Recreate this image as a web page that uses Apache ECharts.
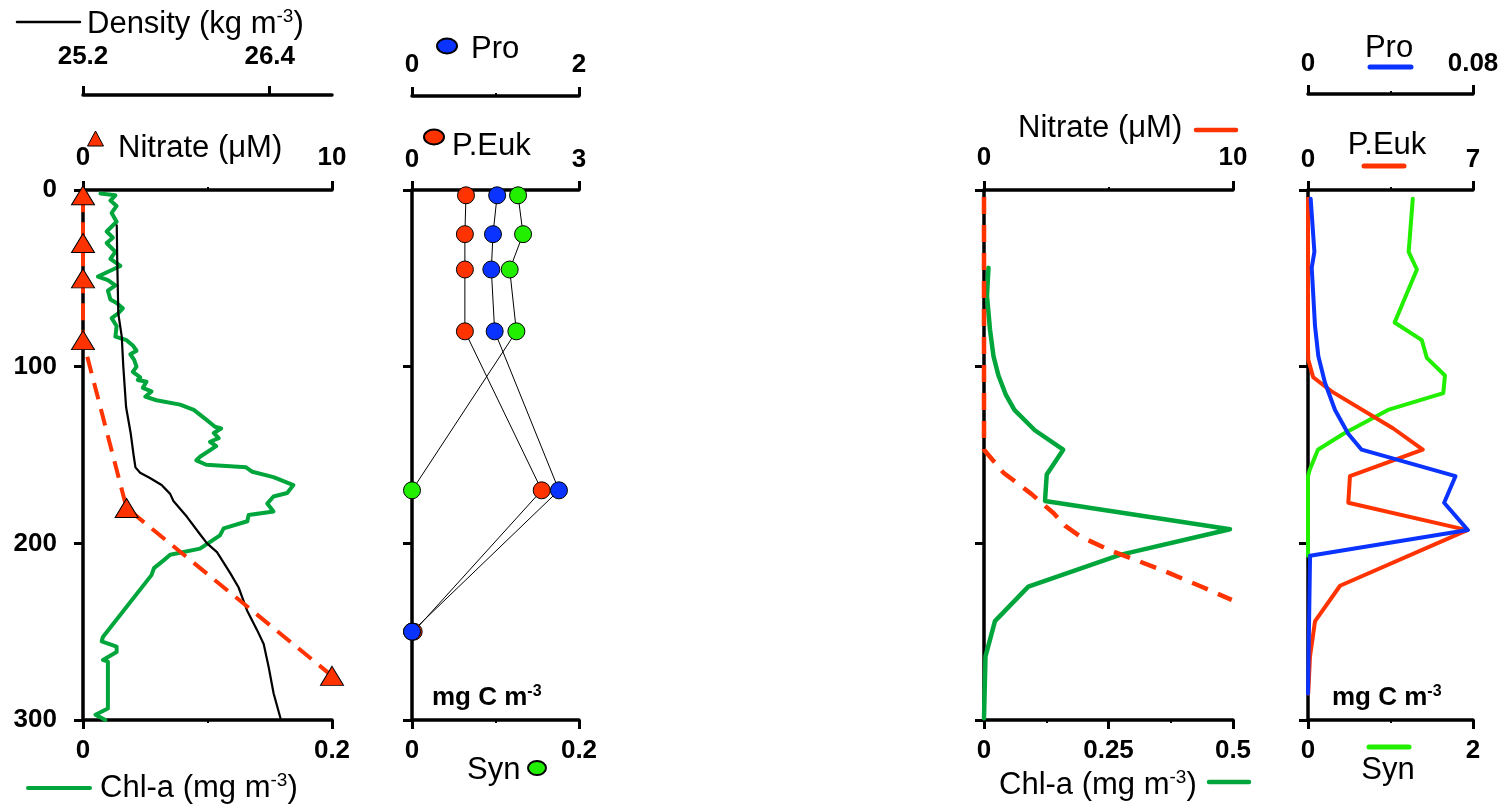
<!DOCTYPE html>
<html><head><meta charset="utf-8">
<script src="https://cdn.jsdelivr.net/npm/echarts@6/dist/echarts.min.js"></script>
<style>html,body{margin:0;padding:0;background:#fff}#c{width:1504px;height:806px}</style>
</head><body><div id="c"></div>
<script>
// ---------------- DATA ----------------
const depthTicks = [0, 100, 200, 300];

// Panel 1 (left station)
const p1NitrateDepth = [3, 30, 50, 85, 180, 275];
const p1NitrateValue = [0, 0, 0, 0, 1.75, 10];
const p1DensityDepth = [20, 40, 70, 83, 100, 123, 138, 150, 157, 160, 163, 167, 172, 176, 185, 195, 200, 205, 217, 225, 238, 249, 257, 270, 285, 299];
const p1DensityValue = [25.417, 25.42, 25.427, 25.449, 25.459, 25.477, 25.507, 25.525, 25.537, 25.567, 25.63, 25.705, 25.76, 25.781, 25.868, 25.953, 25.997, 26.061, 26.147, 26.2, 26.254, 26.318, 26.361, 26.393, 26.425, 26.469];
const p1ChlDepth = [2, 3, 6, 9, 13, 18, 23.5, 27, 30, 35, 39, 43, 45, 49, 51, 54, 57, 62, 64, 67, 70, 72.5, 77, 83, 85, 88, 91, 93, 96, 100, 103, 106, 107.5, 108.5, 112, 114, 117, 119, 121.5, 124.5, 130, 134, 135, 137.5, 140.5, 142.5, 145, 151, 153, 155.5, 157, 159.5, 162.5, 167, 171.5, 173.5, 177.5, 182, 184, 187.5, 191.5, 195.5, 203, 206.5, 209.5, 214, 218, 253, 255.5, 258.5, 261.5, 266, 267, 293.5, 297, 300];
const p1ChlValue = [0.014, 0.026, 0.022, 0.027, 0.023, 0.027, 0.019, 0.024, 0.019, 0.026, 0.022, 0.030, 0.024, 0.012, 0.020, 0.026, 0.020, 0.022, 0.027, 0.032, 0.028, 0.023, 0.027, 0.026, 0.035, 0.040, 0.043, 0.038, 0.041, 0.043, 0.040, 0.046, 0.044, 0.051, 0.048, 0.055, 0.050, 0.059, 0.078, 0.089, 0.099, 0.106, 0.111, 0.105, 0.109, 0.102, 0.107, 0.094, 0.091, 0.099, 0.131, 0.136, 0.153, 0.169, 0.164, 0.153, 0.148, 0.153, 0.133, 0.132, 0.113, 0.110, 0.094, 0.070, 0.065, 0.057, 0.055, 0.016, 0.015, 0.027, 0.027, 0.016, 0.020, 0.020, 0.010, 0.018];

// Panel 2 (left station, mg C m-3)
const p2Depth = [3, 25, 45, 80, 170, 250];
const p2Pro = [1.02, 0.97, 0.95, 0.99, 1.76, 0];
const p2PEuk = [0.97, 0.95, 0.95, 0.95, 2.33, 0.03];
const p2Syn = [0.127, 0.133, 0.117, 0.125, 0, 0];

// Panel 3 (right station)
const p3NitrateDepth = [4, 147, 160, 172, 183, 190, 196, 204, 210, 217, 225, 232];
const p3NitrateValue = [0, 0, 0.78, 1.9, 2.8, 3.25, 3.85, 5.06, 6.2, 7.47, 8.81, 9.95];
const p3ChlDepth = [44, 60, 79, 94, 105, 116, 124.5, 136, 147, 161, 176, 192, 206.5, 224.5, 244, 264, 299];
const p3ChlValue = [0.009, 0.006, 0.012, 0.019, 0.029, 0.044, 0.061, 0.102, 0.159, 0.126, 0.1225, 0.494, 0.273, 0.089, 0.022, 0.003, 0.0];

// Panel 4 (right station, mg C m-3)
const p4ProDepth = [5, 35, 44, 77, 94, 109, 124.5, 138, 147, 162, 177, 192.5, 207, 285];
const p4ProValue = [0.0013, 0.0031, 0.0018, 0.0034, 0.005, 0.0082, 0.0131, 0.0195, 0.026, 0.0715, 0.066, 0.0775, 0.001, 0];
const p4PEukDepth = [5, 89, 96, 106, 114, 135, 147, 162, 177, 192.5, 224, 244, 264, 285];
const p4PEukValue = [0, 0, 0.01, 0.22, 1.0, 3.62, 4.87, 1.78, 1.71, 6.76, 1.36, 0.3, 0.085, 0.01];
const p4SynDepth = [5, 35, 45, 75, 85, 95, 105, 115, 124.5, 138, 147, 158.5, 162, 207];
const p4SynValue = [1.27, 1.22, 1.32, 1.05, 1.38, 1.44, 1.66, 1.64, 0.97, 0.43, 0.12, 0.02, 0, 0];

// ---------------- CHART ----------------
const FONT = '"Liberation Sans", Arial, Helvetica, sans-serif';
const RED = '#ff3300', BLUE = '#0a33ff', LIME = '#22ee00', GREEN = '#00a63c';
const TICK_FS = 26, TITLE_FS = 31;
function pairs(xs, ds) { return xs.map((v, i) => [v, ds[i]]); }
function fmt(v) { return String(parseFloat(Number(v).toFixed(4))); }

function xAx(o) {
  const tick = {show: true, inside: false, length: 9, lineStyle: {color: '#000', width: 3}};
  const lab = {show: true, margin: o.margin, color: '#000', fontSize: TICK_FS, fontWeight: 'bold', fontFamily: FONT, formatter: fmt};
  if (o.values) { tick.customValues = o.values; lab.customValues = o.values; }
  return {
    type: 'value', gridIndex: o.grid, position: o.pos, offset: o.offset || 0,
    min: o.min, max: o.max, interval: o.interval,
    axisLine: {show: true, onZero: false, lineStyle: {color: '#000', width: 3.5}},
    axisTick: tick,
    minorTick: {show: !o.values, splitNumber: 2, length: 3, lineStyle: {color: '#000', width: 2}},
    axisLabel: lab,
    splitLine: {show: false}, minorSplitLine: {show: false}
  };
}
function yAx(grid, showLabel) {
  return {
    type: 'value', gridIndex: grid, inverse: true, min: 0, max: 300, interval: 100,
    axisLine: {show: true, onZero: false, lineStyle: {color: '#000', width: 3.5}},
    axisTick: {show: true, inside: false, length: 9, lineStyle: {color: '#000', width: 3}},
    axisLabel: {show: showLabel, margin: 26, color: '#000', fontSize: TICK_FS, fontWeight: 'bold', fontFamily: FONT},
    splitLine: {show: false}
  };
}

const grids = [
  {left: 83, top: 190, width: 249, height: 530},
  {left: 412, top: 190, width: 167, height: 530},
  {left: 984, top: 190, width: 249, height: 530},
  {left: 1308, top: 190, width: 165, height: 530}
].map(g => Object.assign({outerBoundsMode: 'none', containLabel: false}, g));

const xAxes = [
  xAx({grid: 0, pos: 'bottom', min: 0, max: 0.2, interval: 0.2, margin: 18}),            // 0 Chl-a
  xAx({grid: 0, pos: 'top', min: 0, max: 10, interval: 10, margin: 19}),                 // 1 Nitrate
  xAx({grid: 0, pos: 'top', offset: 95, min: 25.2, max: 26.8, interval: 1.2, margin: 25, values: [25.2, 26.4]}), // 2 Density
  xAx({grid: 1, pos: 'bottom', min: 0, max: 0.2, interval: 0.2, margin: 18}),            // 3 Syn
  xAx({grid: 1, pos: 'top', min: 0, max: 3, interval: 3, margin: 17}),                   // 4 P.Euk
  xAx({grid: 1, pos: 'top', offset: 94, min: 0, max: 2, interval: 2, margin: 18}),       // 5 Pro
  xAx({grid: 2, pos: 'bottom', min: 0, max: 0.5, interval: 0.25, margin: 18}),           // 6 Chl-a
  xAx({grid: 2, pos: 'top', min: 0, max: 10, interval: 10, margin: 19}),                 // 7 Nitrate
  xAx({grid: 3, pos: 'bottom', min: 0, max: 2, interval: 2, margin: 18}),                // 8 Syn
  xAx({grid: 3, pos: 'top', min: 0, max: 7, interval: 7, margin: 17}),                   // 9 P.Euk
  xAx({grid: 3, pos: 'top', offset: 96, min: 0, max: 0.08, interval: 0.08, margin: 17})  // 10 Pro
];
const yAxes = [yAx(0, true), yAx(1, false), yAx(2, false), yAx(3, false)];

function lineS(xi, yi, data, color, width, extra) {
  return Object.assign({
    type: 'line', xAxisIndex: xi, yAxisIndex: yi, data: data, symbol: 'none', showSymbol: false,
    clip: false, animation: false, silent: true,
    lineStyle: {color: color, width: width, join: 'round', cap: 'round'}
  }, extra || {});
}
function dotS(xi, yi, data, color) {
  return {
    type: 'line', xAxisIndex: xi, yAxisIndex: yi, data: data, symbol: 'circle', symbolSize: 17,
    showSymbol: true, clip: false, animation: false, silent: true,
    lineStyle: {color: '#000', width: 1},
    itemStyle: {color: color, borderColor: '#000', borderWidth: 1}
  };
}

const series = [
  lineS(0, 0, pairs(p1ChlValue, p1ChlDepth), GREEN, 4),
  lineS(2, 0, pairs(p1DensityValue, p1DensityDepth), '#000', 2.2),
  lineS(1, 0, pairs(p1NitrateValue, p1NitrateDepth), RED, 4, {
    lineStyle: {color: RED, width: 4, type: [17, 10]},
    symbol: 'triangle', symbolSize: [23, 19], showSymbol: true,
    itemStyle: {color: RED, borderColor: '#000', borderWidth: 1}
  }),
  dotS(3, 1, pairs(p2Syn, p2Depth), LIME),
  dotS(4, 1, pairs(p2PEuk, p2Depth), RED),
  dotS(5, 1, pairs(p2Pro, p2Depth), BLUE),
  lineS(6, 2, pairs(p3ChlValue, p3ChlDepth), GREEN, 4.5),
  lineS(7, 2, pairs(p3NitrateValue, p3NitrateDepth), RED, 4.5, {lineStyle: {color: RED, width: 4.5, type: [17, 11]}}),
  lineS(8, 3, pairs(p4SynValue, p4SynDepth), LIME, 4),
  lineS(9, 3, pairs(p4PEukValue, p4PEukDepth), RED, 4),
  lineS(10, 3, pairs(p4ProValue, p4ProDepth), BLUE, 4)
];

// legend / captions
function rt(x, y, main, sup, tail, opts) {
  opts = opts || {};
  const size = opts.size || TITLE_FS, bold = opts.bold ? 'bold' : 'normal';
  const supSize = opts.supSize || 19;
  let text = '{a|' + main + '}';
  if (sup) text += '{s|' + sup + '}';
  if (tail) text += '{a|' + tail + '}';
  return {
    type: 'text', x: x, y: y, silent: true,
    style: {
      text: text, align: opts.align || 'left', verticalAlign: 'middle',
      rich: {
        a: {fontSize: size, fontWeight: bold, fontFamily: FONT, fill: '#000', lineHeight: size + 2},
        s: {fontSize: supSize, fontWeight: bold, fontFamily: FONT, fill: '#000', verticalAlign: 'top', lineHeight: supSize + (opts.supLift || 6)}
      }
    }
  };
}
function seg(x1, x2, y, color, w) {
  return {type: 'line', silent: true, shape: {x1: x1, y1: y, x2: x2, y2: y},
    style: {stroke: color, lineWidth: w, lineCap: 'round'}};
}
function ell(cx, cy, rx, ry, color) {
  return {type: 'ellipse', silent: true, shape: {cx: cx, cy: cy, rx: rx, ry: ry},
    style: {fill: color, stroke: '#000', lineWidth: 2}};
}

const graphic = [
  // panel 1
  seg(17, 80, 22, '#000', 2.5),
  rt(87, 24, 'Density (kg m', '-3', ')'),
  {type: 'polygon', silent: true, shape: {points: [[95.5, 131], [87.5, 146], [103.5, 146]]}, style: {fill: RED, stroke: '#000', lineWidth: 1}},
  rt(118, 148, 'Nitrate (\u03bcM)'),
  seg(28, 90, 788, GREEN, 4),
  rt(100, 788, 'Chl-a (mg m', '-3', ')'),
  // panel 2
  ell(447, 46, 10, 7.5, BLUE),
  rt(471, 49, 'Pro'),
  ell(434, 137, 10, 7.5, RED),
  rt(452, 146, 'P.Euk'),
  rt(467, 770, 'Syn'),
  ell(537, 768, 9, 7, LIME),
  rt(432, 698, 'mg C m', '-3', '', {size: 26, bold: true, supSize: 16, supLift: 8}),
  // panel 3
  rt(1018, 128, 'Nitrate (\u03bcM)'),
  seg(1196, 1236, 130, RED, 4.5),
  rt(999, 785, 'Chl-a (mg m', '-3', ')'),
  seg(1209, 1249, 782, GREEN, 4.5),
  // panel 4
  rt(1389, 48, 'Pro', '', '', {align: 'center'}),
  seg(1370, 1411, 67, BLUE, 5),
  rt(1387, 145, 'P.Euk', '', '', {align: 'center'}),
  seg(1364, 1404, 166, RED, 5),
  seg(1369, 1409, 747, LIME, 5),
  rt(1388, 770, 'Syn', '', '', {align: 'center'}),
  rt(1332, 698, 'mg C m', '-3', '', {size: 26, bold: true, supSize: 16, supLift: 8})
];

const chart = echarts.init(document.getElementById('c'), null, {renderer: 'canvas'});
chart.setOption({
  backgroundColor: '#fff',
  animation: false,
  grid: grids,
  xAxis: xAxes,
  yAxis: yAxes,
  series: series,
  graphic: graphic
});
</script></body></html>
